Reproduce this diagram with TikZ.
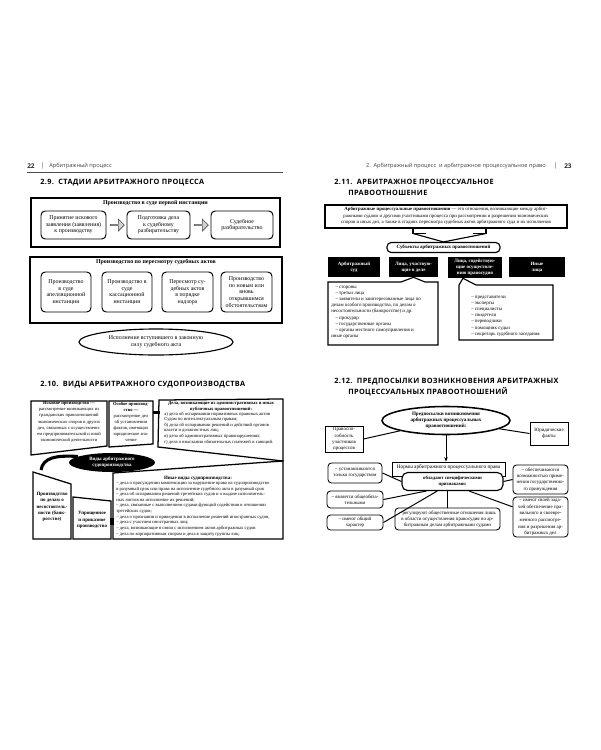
\documentclass[tikz,border=0pt]{standalone}
\usepackage{fontspec}
\setmainfont{Liberation Serif}
\newfontfamily\hdfont{Open Sans}
\newfontfamily\ttlfont[LetterSpace=5]{Open Sans}
\usetikzlibrary{shapes.geometric,shapes.arrows,arrows.meta}
\def\PX{0.025cm}
\newcommand\fsA{\fontsize{4.2}{4.7}\selectfont}
\newcommand\fsB{\fontsize{3.5}{4.4}\selectfont}
\newcommand\fsBs{\fontsize{3.25}{4.35}\selectfont}
\newcommand\fsC{\fontsize{3.3}{4}\selectfont}
\newcommand\fsT{\ttlfont\bfseries\fontsize{5.2}{6.6}\selectfont}
\begin{document}
\begin{tikzpicture}[x=0.025cm,y=-0.025cm,
  outerbox/.style={draw, line width=1.1pt, inner sep=0pt},
  rbox/.style={draw, line width=0.7pt, rounded corners=3pt, align=center, inner sep=0pt, font=\fsA},
  pg/.style={draw, line width=0.9pt, line join=miter},
  tx/.style={inner sep=0pt, align=center},
  blk/.style={fill=black, text=white, inner sep=0pt, align=center, font=\fsB\bfseries},
  sbox/.style={draw, line width=0.6pt, rounded corners=2.5pt, align=center, inner sep=0pt, font=\fsB},
  blockarrow/.style={single arrow, draw=gray!60!black, fill=gray!35, line width=0.4pt, minimum width=12*\PX, minimum height=14*\PX, single arrow head extend=1.5pt, inner sep=0pt},
  cl/.style={draw, line width=0.8pt, line join=miter}]
\useasboundingbox (0,0) rectangle (600,750);

% ---------------- LEFT PAGE ----------------
\node[tx, anchor=west, font=\hdfont\bfseries\fontsize{4.6}{5}\selectfont, text=black!85] (pn22) at (27,166) {22};
\node[tx, anchor=center, font=\hdfont\fontsize{4.6}{5}\selectfont, text=black!70] (barL) at (43,166) {|};
\node[tx, anchor=west, font=\hdfont\fontsize{4}{5}\selectfont, text=black!75] (hdrL) at (49,166) {Арбитражный процесс};
\draw[line width=0.5pt, black!70] (27,172.5) -- (283,172.5);

\node[tx, anchor=west, font=\fsT] (t29) at (40,183) {2.9.\ \ СТАДИИ АРБИТРАЖНОГО ПРОЦЕССА};

% box 1
\node[outerbox, minimum width=249*\PX, minimum height=49*\PX] (b1) at (155.5,222.5) {};
\node[tx, font=\fsA\bfseries] (b1t) at (155.5,203.5) {Производство в суде первой инстанции};
\node[rbox, minimum width=65*\PX, minimum height=28*\PX] (s1) at (73.5,225) {Принятие искового\\заявления (заявления)\\к производству};
\node[rbox, minimum width=63*\PX, minimum height=28*\PX] (s2) at (158.5,225) {Подготовка дела\\к судебному\\разбирательству};
\node[rbox, minimum width=62*\PX, minimum height=28*\PX] (s3) at (242,225) {Судебное\\разбирательство};
\node[blockarrow] (ar1) at (117,225) {};
\node[blockarrow] (ar2) at (201,225) {};

% box 2
\node[outerbox, minimum width=252*\PX, minimum height=66*\PX] (b2) at (156,290) {};
\node[tx, font=\fsA\bfseries] (b2t) at (156,262.5) {Производство по пересмотру судебных актов};
\node[rbox, minimum width=50*\PX, minimum height=40*\PX] (r1) at (66,292) {Производство\\в суде\\апелляционной\\инстанции};
\node[rbox, minimum width=50*\PX, minimum height=40*\PX] (r2) at (127,292) {Производство в\\суде\\кассационной\\инстанции};
\node[rbox, minimum width=51*\PX, minimum height=40*\PX] (r3) at (187.5,292) {Пересмотр су-\\дебных актов\\в порядке\\надзора};
\node[rbox, minimum width=51*\PX, minimum height=40*\PX] (r4) at (246.5,292) {Производство\\по новым или\\вновь\\открывшимся\\обстоятельствам};

\node[ellipse, draw, line width=0.8pt, minimum width=154*\PX, minimum height=26*\PX, inner sep=0pt, align=center, font=\fsA] (ex) at (156,342) {Исполнение вступившего в законную\\силу судебного акта};

% section 2.10
\node[tx, anchor=west, font=\fsT] (t210) at (40,385) {2.10.\ \ ВИДЫ АРБИТРАЖНОГО СУДОПРОИЗВОДСТВА};

\draw[pg] (31,401) -- (107,401) -- (107,446) -- (31,455) -- cycle;
\node[tx, font=\fsBs] (tA) at (69,422) {\textbf{Исковое производство —}\\рассмотрение возникающих из\\гражданских правоотношений\\экономических споров и других\\дел, связанных с осуществлени-\\ем предпринимательской и иной\\экономической деятельности};

\draw[pg] (109,401) -- (153,401) -- (153,444) -- (109,447) -- cycle;
\node[tx, font=\fsBs] (tB) at (131,422) {\textbf{Особое производ-}\\\textbf{ство —}\\рассмотрение дел\\об установлении\\фактов, имеющих\\юридическое зна-\\чение};
\fill (152.5,410.5) rectangle (159.5,413.5);

\draw[pg] (159,400) -- (283,399) -- (283,461) -- (158,447) -- cycle;
\node[tx, font=\fsC\bfseries] (tC1) at (221,406.5) {Дела, возникающие из административных и иных\\публичных правоотношений:};
\node[tx, anchor=north west, align=left, font=\fsC] (tC2) at (164,411.5) {а) дела об оспаривании нормативных правовых актов\\Судом по интеллектуальным правам;\\б) дела об оспаривании решений и действий органов\\власти и должностных лиц;\\в) дела об административных правонарушениях;\\г) дела о взыскании обязательных платежей и санкций.};

\node[ellipse, fill=black, text=white, minimum width=86*\PX, minimum height=19*\PX, inner sep=0pt, align=center, font=\fsB\bfseries] (vid) at (112,462.5) {Виды арбитражного\\судопроизводства};
\coordinate (aD) at (41,470);
\draw[line width=2.2pt] (vid.170) .. controls (55,455) and (43,458) .. (aD);

\draw[pg] (33,472) -- (71,484) -- (71,539) -- (33,539) -- cycle;
\node[tx, font=\fsB\bfseries] (tD) at (52,507) {Производство\\по делам о\\несостоятель-\\ности (банк-\\ротстве)};

\draw[pg] (73,497) -- (111,501) -- (111,539) -- (73,539) -- cycle;
\node[tx, font=\fsB\bfseries] (tE) at (92,520) {Упрощенное\\и приказное\\производство};
\fill (110,517.5) rectangle (113.5,524.5);

\draw[pg] (113,473) -- (283,461) -- (283,539) -- (113,539) -- cycle;
\node[tx, font=\fsB\bfseries] (tF1) at (198,478) {Иные виды судопроизводства:};
\node[tx, anchor=north west, align=left, font=\fsC] (tF2) at (116,482) {– дела о присуждении компенсации за нарушение права на судопроизводство\\в разумный срок или права на исполнение судебного акта в разумный срок\\– дела об оспаривании решений третейских судов и о выдаче исполнитель-\\ных листов на исполнение их решений;\\– дела, связанные с выполнением судами функций содействия в отношении\\третейских судов;\\– дела о признании и приведении в исполнение решений иностранных судов,\\– дела с участием иностранных лиц;\\– дела, возникающие в связи с исполнением актов арбитражных судов\\– дела по корпоративным спорам и дела в защиту группы лиц.};

% ---------------- RIGHT PAGE ----------------
\node[tx, anchor=east, font=\hdfont\fontsize{4}{5}\selectfont, text=black!75] (hdrR) at (546,166) {2.\ \ Арбитражный процесс\ \ и арбитражное процессуальное право};
\node[tx, font=\hdfont\fontsize{4.6}{5}\selectfont, text=black!70] (barR) at (556,166) {|};
\node[tx, anchor=west, font=\hdfont\bfseries\fontsize{4.6}{5}\selectfont, text=black!85] (pn23) at (564,166) {23};

\node[tx, anchor=west, font=\fsT] (t211a) at (334,183) {2.11.\ \ АРБИТРАЖНОЕ ПРОЦЕССУАЛЬНОЕ};
\node[tx, anchor=west, font=\fsT] (t211b) at (348,193) {ПРАВООТНОШЕНИЕ};

\node[draw, line width=0.9pt, minimum width=242*\PX, minimum height=23*\PX, inner sep=0pt] (def) at (446,216.5) {};
\node[tx, align=center, font=\fontsize{3.42}{4.6}\selectfont] (deft) at (446,216) {\textbf{Арбитражные процессуальные правоотношения} — это отношения, возникающие между арбит-\\ражными судами и другими участниками процесса при рассмотрении и разрешении экономических\\споров и иных дел, а также в стадиях пересмотра судебных актов арбитражного суда и их исполнения};

\node[draw, line width=0.8pt, rounded corners=3pt, minimum width=113*\PX, minimum height=10*\PX, inner sep=0pt, font=\fsB\bfseries] (subj) at (443.5,247.5) {Субъекты арбитражных правоотношений};
\draw[line width=0.8pt, line join=miter] (def.south -| 413,0) -- (413,233.5) -- (426,233.5);
\draw[line width=0.8pt, line join=miter] (def.south -| 486,0) -- (486,233.5) -- (473,233.5);
\draw[line width=0.8pt, line join=miter] (413,233.5) -- (subj.north) -- (486,233.5);

\node[blk, minimum width=52*\PX, minimum height=20*\PX] (k1) at (354,267) {Арбитражный\\суд};
\node[blk, minimum width=49*\PX, minimum height=20*\PX] (k2) at (413.5,267) {Лица, участвую-\\щие в деле};
\node[blk, minimum width=54*\PX, minimum height=21*\PX] (k3) at (475,267.5) {Лица, содействую-\\щие осуществле-\\нию правосудия};
\node[blk, minimum width=56*\PX, minimum height=20*\PX] (k4) at (537,267) {Иные\\лица};

\draw[cl] (328,282) -- (401,282) -- (k2.south) -- (425,282) -- (438,282) -- (438,345) -- (328,345) -- cycle;
\node[tx, anchor=north west, align=left, font=\fsB] (c2t) at (331,285.5) {\hspace*{3pt}– стороны\\\hspace*{3pt}– третьи лица\\\hspace*{3pt}– заявители и заинтересованные лица по\\делам особого производства, по делам о\\несостоятельности (банкротстве) и др.\\\hspace*{3pt}– прокурор\\\hspace*{3pt}– государственные органы\\\hspace*{3pt}– органы местного самоуправления и\\иные органы};

\draw[cl] (459,285) -- (k3.south -| 463,0) -- (476,285) -- (553,285) -- (553,340) -- (459,340) -- cycle;
\node[tx, anchor=north west, align=left, font=\fsB] (c3t) at (471,295.5) {– представители\\– эксперты\\– специалисты\\– свидетели\\– переводчики\\– помощник судьи\\– секретарь судебного заседания};

% section 2.12
\node[tx, anchor=west, font=\fsT] (t212a) at (334,382) {2.12.\ \ ПРЕДПОСЫЛКИ ВОЗНИКНОВЕНИЯ АРБИТРАЖНЫХ};
\node[tx, anchor=west, font=\fsT] (t212b) at (348,391.5) {ПРОЦЕССУАЛЬНЫХ ПРАВООТНОШЕНИЙ};

\node[ellipse, draw, line width=1.1pt, minimum width=128*\PX, minimum height=28*\PX, inner sep=0pt, align=center, font=\fontsize{3.6}{4.3}\selectfont\bfseries] (pe) at (446,420.5) {Предпосылки возникновения\\арбитражных процессуальных\\правоотношений:};
\node[draw, line width=0.7pt, minimum width=38*\PX, minimum height=26*\PX, inner sep=0pt, align=center, font=\fsB] (pl) at (344,439) {Правоспо-\\собность\\участников\\процессов};
\node[draw, line width=0.7pt, minimum width=38*\PX, minimum height=23*\PX, inner sep=0pt, align=center, font=\fsB] (pr) at (549,433.5) {Юридические\\факты};
\draw[line width=0.7pt] (pl.east) -- (pe);
\draw[line width=0.7pt] (pr.west) -- (pe);

\node[draw, line width=0.7pt, minimum width=113*\PX, minimum height=14*\PX, inner sep=0pt, anchor=north, font=\fontsize{3.8}{4.5}\selectfont] (nr) at (448.5,461.5) {\raisebox{3pt}{Нормы арбитражного процессуального права}};
\draw[line width=0.7pt, -{Stealth[length=3pt,width=2.5pt]}] (pe.south) -- (nr.north -| pe.south);
\node[draw, fill=white, line width=0.8pt, rounded corners=4pt, minimum width=101*\PX, minimum height=18*\PX, inner sep=0pt, align=center, font=\fontsize{3.4}{4.3}\selectfont\bfseries] (ob) at (452.5,481.5) {обладают специфическими\\признаками:};

\node[sbox, minimum width=54*\PX, minimum height=20*\PX] (l1) at (355,473) {– устанавливаются\\только государством};
\node[sbox, minimum width=56*\PX, minimum height=17*\PX] (l2) at (355,499.5) {– является общеобяза-\\тельными};
\node[sbox, minimum width=56*\PX, minimum height=15*\PX] (l3) at (355,522.5) {– имеют общий\\характер};
\node[sbox, minimum width=55*\PX, minimum height=29*\PX] (q1) at (540.5,479.5) {– обеспечиваются\\возможностью приме-\\нения государственно-\\го принуждения};
\node[sbox, minimum width=55*\PX, minimum height=40*\PX, font=\fontsize{3.5}{4.7}\selectfont] (q2) at (540.5,517) {– имеют своей зада-\\чей обеспечение пра-\\вильного и своевре-\\менного рассмотре-\\ния и разрешения ар-\\битражных дел};
\node[sbox, minimum width=105*\PX, minimum height=22*\PX] (cb) at (447.5,519) {– регулируют общественные отношения лишь\\в области осуществления правосудия по ар-\\битражным делам арбитражными судами};

\draw[line width=0.7pt] (ob.west) -- (l1.east);
\draw[line width=0.7pt] (ob.200) -- (l2.east);
\draw[line width=0.7pt] (ob.212) -- (l3.east);
\draw[line width=0.7pt] (ob.south -| cb.north) -- (cb.north);
\draw[line width=0.7pt] (ob.east) -- (q1.west);
\draw[line width=0.7pt] (ob.-30) -- (q2.160);
\end{tikzpicture}
\end{document}
